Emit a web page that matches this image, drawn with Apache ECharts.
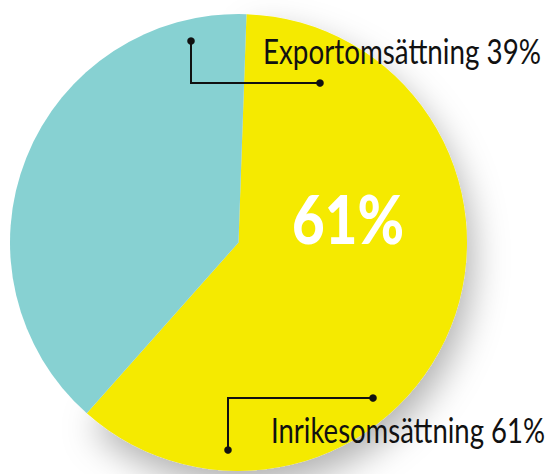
<!DOCTYPE html>
<html>
<head>
<meta charset="utf-8">
<script src="https://cdn.jsdelivr.net/npm/echarts@6/dist/echarts.min.js"></script>
<style>
html,body{margin:0;padding:0;background:#fff;}
#chart{width:549px;height:474px;}
</style>
</head>
<body>
<div id="chart"></div>
<script>
const categories = ['Inrikesomsättning', 'Exportomsättning'];
const values = [61, 39];
const colors = ['#F5EA00', '#87D1D2'];

const FONT = 'Lato, "Open Sans", "Noto Sans", sans-serif';

const chart = echarts.init(document.getElementById('chart'), null, {renderer: 'svg'});

const measureCtx = document.createElement('canvas').getContext('2d');
function fitScale(text, font, targetWidth) {
  measureCtx.font = font;
  const w = measureCtx.measureText(text).width;
  return w > 0 ? targetWidth / w : 1;
}

const labelLayout = [
  {x: 271, y: 430, width: 274},
  {x: 263, y: 51, width: 278}
];

const labelTexts = categories.map((c, i) => {
  const text = c + ' ' + values[i] + '%';
  const sx = fitScale(text, '34px ' + FONT, labelLayout[i].width);
  return {
    type: 'text', z: 100,
    x: labelLayout[i].x, y: labelLayout[i].y,
    scaleX: sx,
    style: {
      text: text,
      fontFamily: FONT, fontSize: 34, fill: '#111',
      align: 'left', verticalAlign: 'middle'
    }
  };
});

const bigText = values[0] + '%';
const bigScale = fitScale(bigText, '900 66px ' + FONT, 112);

const option = {
  backgroundColor: '#ffffff',
  animation: false,
  series: [{
    type: 'pie',
    center: [238.5, 242.5],
    radius: [0, 228.5],
    startAngle: 88,
    clockwise: true,
    silent: true,
    label: {show: false},
    labelLine: {show: false},
    data: categories.map((c, i) => ({
      name: c,
      value: values[i],
      itemStyle: i === 0 ? {
        color: colors[i],
        shadowBlur: 35,
        shadowOffsetX: 6,
        shadowOffsetY: 16,
        shadowColor: 'rgba(0,0,0,0.3)'
      } : {color: colors[i]}
    }))
  }],
  graphic: [
    {type: 'polyline', z: 100, shape: {points: [[191, 41], [191, 83], [320, 83]]}, style: {stroke: '#111', lineWidth: 2, fill: null}},
    {type: 'circle', z: 100, shape: {cx: 191, cy: 41, r: 3.8}, style: {fill: '#111'}},
    {type: 'circle', z: 100, shape: {cx: 320, cy: 83, r: 3.8}, style: {fill: '#111'}},
    {type: 'polyline', z: 100, shape: {points: [[228, 450], [228, 398], [373, 398]]}, style: {stroke: '#111', lineWidth: 2, fill: null}},
    {type: 'circle', z: 100, shape: {cx: 228, cy: 450, r: 3.8}, style: {fill: '#111'}},
    {type: 'circle', z: 100, shape: {cx: 373, cy: 398, r: 3.8}, style: {fill: '#111'}},
    {type: 'text', z: 100, x: 348, y: 218, scaleX: bigScale, style: {
      text: bigText,
      fontFamily: FONT, fontWeight: 900, fontSize: 66,
      fill: '#ffffff',
      align: 'center', verticalAlign: 'middle'
    }}
  ].concat(labelTexts)
};
chart.setOption(option);
</script>
</body>
</html>
